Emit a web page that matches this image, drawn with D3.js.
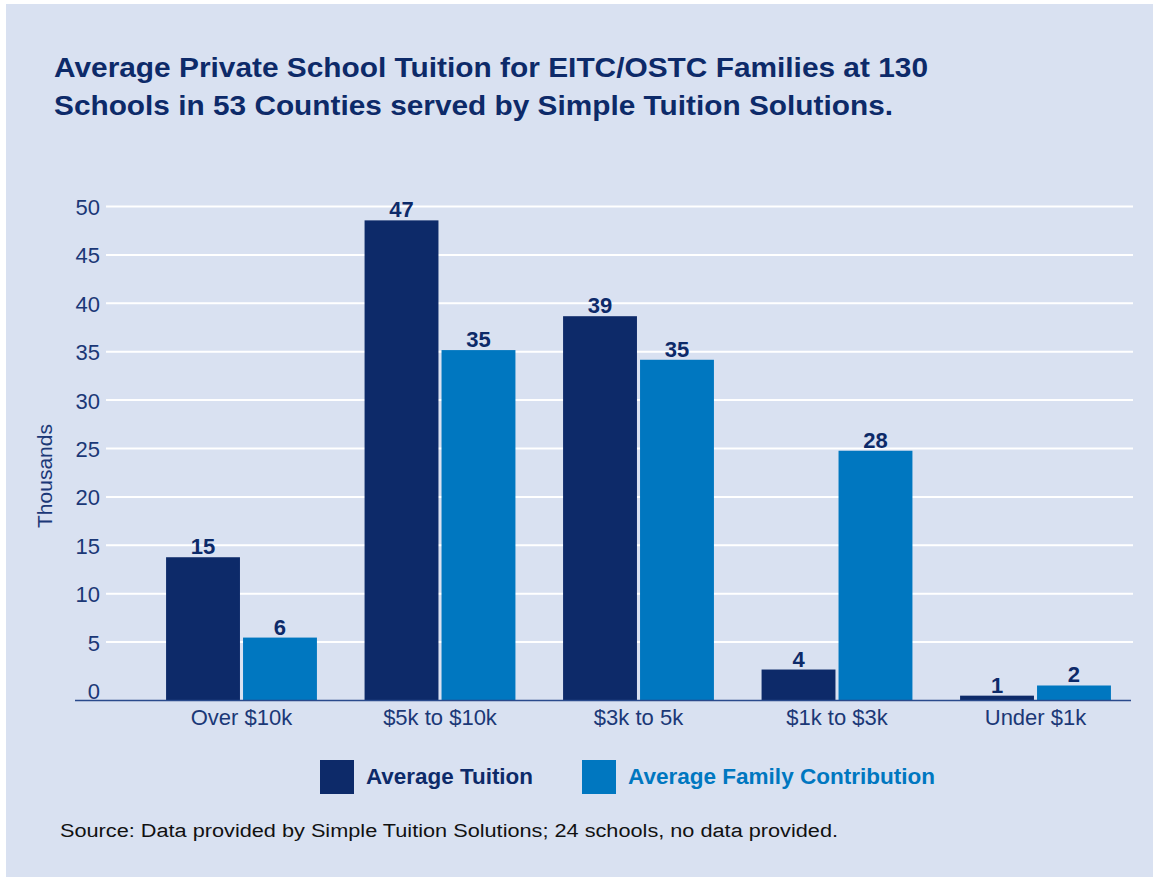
<!DOCTYPE html>
<html>
<head>
<meta charset="utf-8">
<script src="https://cdn.jsdelivr.net/npm/d3@7"></script>
<style>
  body { margin: 0; background: #fff; }
  svg { display: block; font-family: "Liberation Sans", Arial, Helvetica, sans-serif; }
</style>
</head>
<body>
<svg id="chart" width="1153" height="882"></svg>
<script>
// data
const categories = ["Over $10k", "$5k to $10k", "$3k to 5k", "$1k to $3k", "Under $1k"];
const seriesNames = ["Average Tuition", "Average Family Contribution"];
const tuition = [14.8, 49.6, 39.7, 3.2, 0.5];
const contribution = [6.5, 36.2, 35.2, 25.8, 1.55];
const tuitionLabels = ["15", "47", "39", "4", "1"];
const contributionLabels = ["6", "35", "35", "28", "2"];
const yTicks = [0, 5, 10, 15, 20, 25, 30, 35, 40, 45, 50];

const navy = "#0d2a69";
const blue = "#0077c0";
const bg = "#d9e1f1";
const tickColor = "#1b3877";

let svg = d3.select("#chart");

// panel
svg.append("rect")
  .attr("x", 6).attr("y", 4)
  .attr("width", 1147).attr("height", 873)
  .attr("fill", bg);

// title
let title = svg.append("g").attr("fill", navy)
  .style("font-weight", "bold").style("font-size", "27px");
title.append("text").attr("x", 54).attr("y", 77)
  .attr("textLength", 874).attr("lengthAdjust", "spacingAndGlyphs")
  .text("Average Private School Tuition for EITC/OSTC Families at 130");
title.append("text").attr("x", 54).attr("y", 115)
  .attr("textLength", 839).attr("lengthAdjust", "spacingAndGlyphs")
  .text("Schools in 53 Counties served by Simple Tuition Solutions.");

// scales
let yScale = d3.scaleLinear().domain([0, 50]).range([690.5, 206.5]);
let baseOffset = 10; // bars sit on the axis line, drawn a little below zero
let baseline = yScale(0) + baseOffset;

let xScale = d3.scaleBand()
  .domain(categories)
  .range([142.25, 1134.75])
  .paddingInner(0.24)
  .paddingOuter(0.12);

let inner = d3.scaleBand()
  .domain(seriesNames)
  .range([0, xScale.bandwidth()])
  .paddingInner(0.04);

let color = d3.scaleOrdinal().domain(seriesNames).range([navy, blue]);

// gridlines
svg.append("g")
  .selectAll("line")
  .data(yTicks.filter(d => d > 0))
  .join("line")
  .attr("x1", 106).attr("x2", 1133)
  .attr("y1", d => yScale(d)).attr("y2", d => yScale(d))
  .attr("stroke", "#fff").attr("stroke-width", 2);

// y axis labels
let yAxis = svg.append("g")
  .attr("transform", "translate(100,0)")
  .call(d3.axisLeft(yScale).tickValues(yTicks).tickSize(0).tickPadding(0));
yAxis.select(".domain").remove();
yAxis.selectAll("text")
  .attr("fill", tickColor)
  .style("font-size", "22px")
  .attr("dy", "0.36em");

svg.append("text")
  .attr("transform", "translate(52,476) rotate(-90)")
  .attr("text-anchor", "middle")
  .attr("fill", tickColor)
  .style("font-size", "21px")
  .text("Thousands");

// bars
let rows = categories.map((c, i) => ({
  category: c,
  values: [
    { series: seriesNames[0], value: tuition[i], label: tuitionLabels[i] },
    { series: seriesNames[1], value: contribution[i], label: contributionLabels[i] }
  ]
}));

let groups = svg.append("g")
  .selectAll("g")
  .data(rows)
  .join("g")
  .attr("transform", d => `translate(${xScale(d.category)},0)`);

groups.selectAll("rect")
  .data(d => d.values)
  .join("rect")
  .attr("x", d => inner(d.series))
  .attr("width", inner.bandwidth())
  .attr("y", d => yScale(d.value) + baseOffset)
  .attr("height", d => yScale(0) - yScale(d.value))
  .attr("fill", d => color(d.series));

groups.selectAll("text")
  .data(d => d.values)
  .join("text")
  .attr("x", d => inner(d.series) + inner.bandwidth() / 2)
  .attr("y", d => yScale(d.value) + baseOffset - 3)
  .attr("text-anchor", "middle")
  .attr("fill", navy)
  .style("font-weight", "bold")
  .style("font-size", "22px")
  .text(d => d.label);

// x axis
let xAxis = svg.append("g")
  .attr("transform", `translate(0,${baseline})`)
  .call(d3.axisBottom(xScale).tickSize(0).tickPadding(9));
xAxis.select(".domain").remove();
xAxis.selectAll("text")
  .attr("fill", tickColor)
  .style("font-size", "22px");

svg.append("line")
  .attr("x1", 75).attr("x2", 1131)
  .attr("y1", baseline).attr("y2", baseline)
  .attr("stroke", "#2a4a8c").attr("stroke-width", 1.5);

// legend
let legendX = [320, 582];
let legendTextW = [167, 307];
let legend = svg.append("g")
  .selectAll("g")
  .data(seriesNames)
  .join("g")
  .attr("transform", (d, i) => `translate(${legendX[i]},760)`);
legend.append("rect")
  .attr("width", 34).attr("height", 34)
  .attr("fill", d => color(d));
legend.append("text")
  .attr("x", 46).attr("y", 24)
  .attr("textLength", (d, i) => legendTextW[i])
  .attr("lengthAdjust", "spacingAndGlyphs")
  .attr("fill", d => color(d))
  .style("font-weight", "bold")
  .style("font-size", "22px")
  .text(d => d);

// source
svg.append("text")
  .attr("x", 60).attr("y", 837)
  .attr("textLength", 778)
  .attr("lengthAdjust", "spacingAndGlyphs")
  .attr("fill", "#111")
  .style("font-size", "18px")
  .text("Source: Data provided by Simple Tuition Solutions; 24 schools, no data provided.");
</script>
</body>
</html>
